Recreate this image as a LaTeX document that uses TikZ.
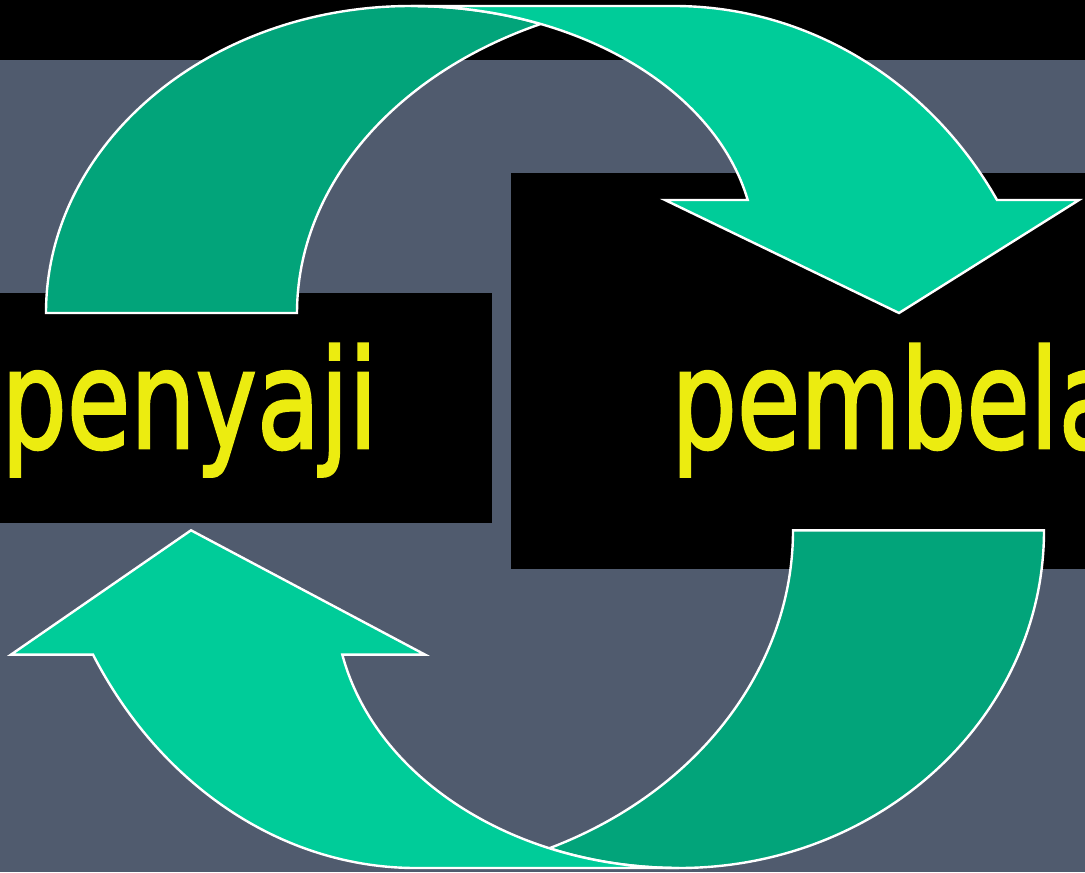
\documentclass[tikz,border=0pt]{standalone}
\usepackage{fontspec}
\newfontfamily\tfont{DejaVu Sans}[FakeBold=2]
\definecolor{slate}{RGB}{80,91,110}
\definecolor{darkteal}{RGB}{2,164,122}
\definecolor{lightteal}{RGB}{0,204,153}
\definecolor{txtyellow}{RGB}{236,236,16}
\newsavebox\pbox
\newlength\pw
\newlength\pxh
\begin{document}
\sbox\pbox{\tfont penyaji}\setlength\pw{\wd\pbox}\settoheight\pxh{\tfont x}
\begin{tikzpicture}[x=0.5pt,y=-0.5pt,
  bandstyle/.style={fill=darkteal,draw=white,line width=1.2pt},
  arrowstyle/.style={fill=lightteal,draw=white,line width=1.2pt},
  labelstyle/.style={text=txtyellow,inner sep=0pt,anchor=base west}]
\pgfmathsetmacro\sx{188/\pw}
\pgfmathsetmacro\sy{37.5/\pxh}
\useasboundingbox (0,0) rectangle (1085,872);
% background
\fill[black] (0,0) rectangle (1085,60);
\fill[slate] (0,60) rectangle (1085,872);
% boxes
\fill[black] (0,293) rectangle (492,523);
\fill[black] (511,173) rectangle (1085,569);
% labels
\node[labelstyle] (penyaji) at (1,448) {\scalebox{\sx}[\sy]{\tfont penyaji}};
\begin{scope}
\clip (511,173) rectangle (1085,569);
\node[labelstyle] (pembela) at (671,448) {\scalebox{\sx}[\sy]{\tfont pembela}};
\end{scope}
% top arrow
\draw[bandstyle] (46,313) .. controls (46,143.4) and (209.4,6) .. (411,6)
  .. controls (455.4,6) and (499.5,12.1) .. (540.6,24)
  .. controls (392.4,75) and (297,188.2) .. (297,313) -- cycle;
\draw[arrowstyle] (411,6) -- (674,6) .. controls (806.3,6) and (928.8,79.7) .. (997,200)
  -- (1079,200) -- (899,313) -- (665,200) -- (747.7,200)
  .. controls (714.4,87) and (573.9,6) .. (411,6) -- cycle;
% bottom arrow (rotated copy)
\begin{scope}[shift={(1090,874.6)},xscale=-1,yscale=-1.1]
\draw[bandstyle] (46,313) .. controls (46,143.4) and (209.4,6) .. (411,6)
  .. controls (455.4,6) and (499.5,12.1) .. (540.6,24)
  .. controls (392.4,75) and (297,188.2) .. (297,313) -- cycle;
\draw[arrowstyle] (411,6) -- (674,6) .. controls (806.3,6) and (928.8,79.7) .. (997,200)
  -- (1079,200) -- (899,313) -- (665,200) -- (747.7,200)
  .. controls (714.4,87) and (573.9,6) .. (411,6) -- cycle;
\end{scope}
\end{tikzpicture}
\end{document}
